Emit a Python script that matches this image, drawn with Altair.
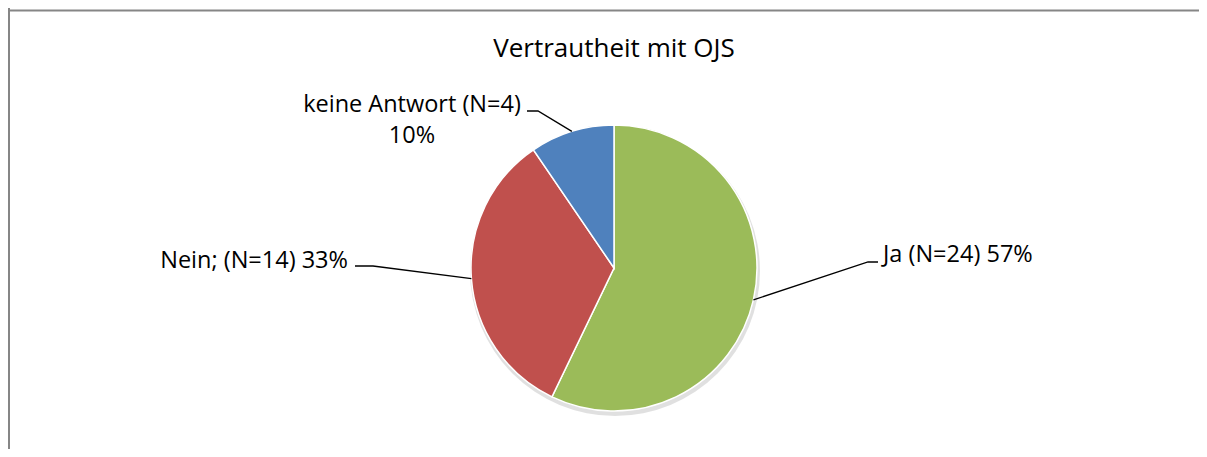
import altair as alt
import pandas as pd
import numpy as np

# ---- data ----
categories = ["Ja", "Nein", "keine Antwort"]
label_names = ["Ja (N=24)", "Nein; (N=14)", "keine Antwort (N=4)"]
counts = [24, 14, 4]
colors = ["#9BBB59", "#C0504D", "#4F81BD"]
title_text = "Vertrautheit mit OJS"

# ---- layout ----
W, H = 1191, 441
CX, CY, R = 606, 260, 143
FONT = "Open Sans"
FS = 23.5
TFS = 26
# text x, text baseline y, elbow x, line end x, line y
layout = {
    "Ja": dict(tx=875, ty=254, align="left", ex=860, lx=870, ly=254),
    "Nein": dict(tx=340, ty=260, align="right", ex=365, lx=347, ly=258),
    "keine Antwort": dict(tx=404, ty=104, align="center", ex=530, lx=519, ly=103),
}

total = sum(counts)
pcts = [round(100 * c / total) for c in counts]

pie_df = pd.DataFrame({"cat": categories, "count": counts, "idx": range(len(categories))})

# leader lines: from slice mid-angle on the rim to the label
line_rows = []
cum = 0
for cat, c in zip(categories, counts):
    mid = (cum + c / 2) / total * 2 * np.pi
    cum += c
    ax = CX + R * np.sin(mid)
    ay = CY - R * np.cos(mid)
    L = layout[cat]
    line_rows += [
        dict(cat=cat, pt=0, x=ax, y=ay),
        dict(cat=cat, pt=1, x=L["ex"], y=L["ly"]),
        dict(cat=cat, pt=2, x=L["lx"], y=L["ly"]),
    ]
lines_df = pd.DataFrame(line_rows)

text_rows = []
for cat, name, p in zip(categories, label_names, pcts):
    L = layout[cat]
    if L["align"] == "center":
        text_rows.append(dict(text=name, x=L["tx"], y=L["ty"], align="center"))
        text_rows.append(dict(text=f"{p}%", x=L["tx"], y=L["ty"] + 31, align="center"))
    else:
        text_rows.append(dict(text=f"{name} {p}%", x=L["tx"], y=L["ty"], align=L["align"]))
text_df = pd.DataFrame(text_rows)

frame = pd.DataFrame({"x": [1, 0], "y": [0, 2.5], "x2": [1, W], "y2": [H, 2.5]})

frame_layer = alt.Chart(frame).mark_rule(color="#868686", strokeWidth=2).encode(
    x=alt.X("x:Q", scale=None), y=alt.Y("y:Q", scale=None),
    x2="x2:Q", y2="y2:Q")

shadow = alt.Chart(pie_df).transform_aggregate(total="sum(count)").mark_arc(
    theta=0, theta2=2 * np.pi, outerRadius=R + 2, color="#000000", opacity=0.12
).encode(x=alt.value(CX + 1), y=alt.value(CY + 3))

pie = alt.Chart(pie_df).mark_arc(outerRadius=R, stroke="white", strokeWidth=1.5).encode(
    theta=alt.Theta("count:Q", stack=True),
    color=alt.Color("cat:N", scale=alt.Scale(domain=categories, range=colors), legend=None),
    order=alt.Order("idx:Q"),
    x=alt.value(CX), y=alt.value(CY),
)

leaders = alt.Chart(lines_df).mark_line(color="black", strokeWidth=1.3).encode(
    x=alt.X("x:Q", scale=None), y=alt.Y("y:Q", scale=None),
    detail="cat:N", order="pt:Q")

def text_layer(align):
    return alt.Chart(text_df).transform_filter(alt.datum.align == align).mark_text(
        align=align, baseline="alphabetic", font=FONT, fontSize=FS, color="#000000"
    ).encode(x=alt.X("x:Q", scale=None), y=alt.Y("y:Q", scale=None), text="text:N")

title = alt.Chart(pd.DataFrame({"t": [title_text]})).mark_text(
    align="center", baseline="alphabetic", font=FONT, fontSize=TFS, color="#000000"
).encode(x=alt.value(CX), y=alt.value(49), text="t:N")

chart = alt.layer(
    frame_layer, shadow, pie, leaders,
    text_layer("left"), text_layer("right"), text_layer("center"), title
).properties(
    width=W, height=H, padding=0, autosize=alt.AutoSizeParams(type="none"),
    background="white"
).configure_view(stroke=None)

chart.save("out.html", embed_options={"renderer": "svg", "actions": False})
